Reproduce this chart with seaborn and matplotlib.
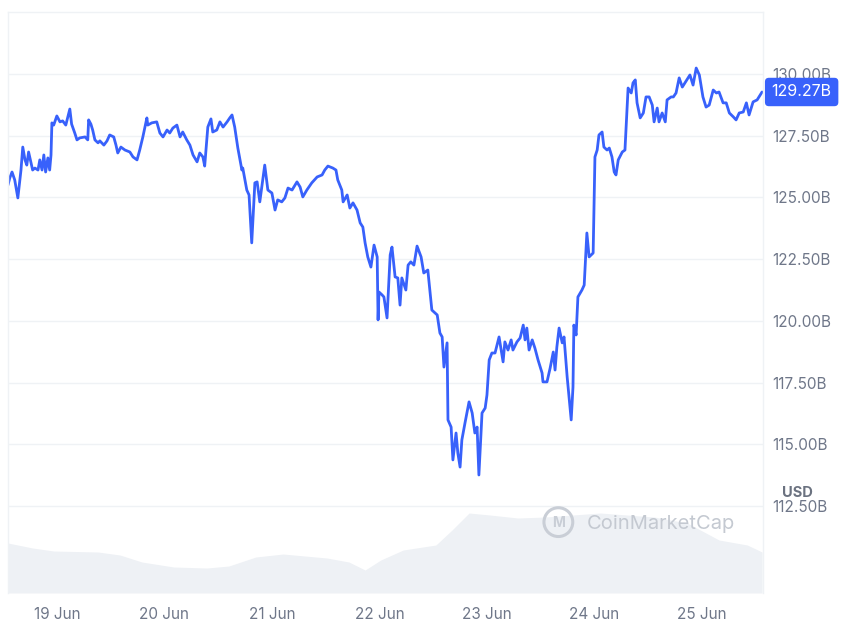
import matplotlib
matplotlib.use("Agg")
import matplotlib.pyplot as plt
import matplotlib.dates as mdates
import seaborn as sns
import numpy as np
import pandas as pd

# Market cap (billions USD), hours from 19 Jun 00:00
cap_hours = [
    -10.9, -10.5, -10.0, -9.4, -8.7, -8.0, -7.6, -7.1, -6.7, -6.3, -5.8, -5.4, -4.9, -4.2,
    -3.8, -3.3, -2.9, -2.5, -2.0, -1.6, -1.3, -1.1, -0.7, 0.0, 0.7, 1.3, 2.0, 2.9, 3.3,
    4.0, 4.5, 5.1, 6.3, 6.9, 7.1, 7.6, 8.0, 8.5, 9.2, 9.6, 10.5, 11.2, 11.8, 12.7, 13.2,
    13.6, 14.3, 15.2, 16.3, 17.0, 17.9, 18.5, 19.2, 20.1, 20.3, 21.2, 22.3, 23.0, 23.7,
    24.6, 25.2, 25.9, 26.8, 27.5, 28.1, 29.0, 29.7, 30.4, 31.3, 31.9, 32.6, 33.0, 33.7,
    34.4, 34.8, 35.7, 36.4, 37.1, 38.0, 38.6, 39.1, 39.7, 40.4, 41.3, 41.5, 42.4, 42.9,
    43.5, 44.2, 44.7, 45.3, 46.4, 47.1, 48.0, 48.7, 49.3, 50.2, 50.9, 51.6, 52.5, 53.6,
    54.3, 54.9, 55.8, 56.9, 58.1, 59.2, 59.8, 60.5, 61.6, 62.3, 62.7, 63.6, 63.9, 64.8,
    65.4, 66.1, 67.0, 67.7, 68.3, 68.8, 69.4, 70.1, 70.8, 71.5, 71.7, 71.9, 72.6, 73.0,
    73.7, 74.4, 74.8, 75.5, 76.1, 76.6, 77.0, 77.9, 78.4, 79.0, 79.7, 80.4, 81.3, 81.9,
    82.8, 83.7, 84.9, 85.5, 86.0, 86.4, 87.1, 87.3, 88.0, 88.4, 89.1, 89.5, 90.0, 90.4,
    91.1, 92.0, 92.7, 93.3, 93.8, 94.2, 94.9, 95.6, 96.0, 96.5, 97.1, 97.8, 98.7, 99.6,
    100.0, 100.7, 101.4, 101.8, 102.7, 103.4, 104.1, 104.5, 104.9, 105.4, 106.1, 106.7,
    107.4, 108.3, 108.5, 109.4, 110.1, 110.8, 111.2, 111.6, 112.1, 112.8, 113.2, 113.9,
    114.8, 115.2, 115.4, 115.9, 116.3, 117.2, 117.7, 118.3, 118.8, 119.7, 120.1, 120.6,
    121.0, 121.7, 122.1, 122.8, 123.3, 123.9, 124.4, 124.8, 125.3, 126.2, 126.8, 127.5,
    128.2, 128.6, 129.1, 129.5, 130.2, 130.9, 131.5, 132.2, 132.9, 133.3, 134.0, 134.4,
    135.1, 135.8, 136.2, 137.1, 137.6, 138.2, 138.9, 139.6, 140.2, 141.3, 142.0, 142.7,
    143.4, 144.2, 144.9, 145.6, 146.5, 147.2, 147.8, 148.7, 149.4, 150.1, 151.0, 151.6,
    152.3, 153.2, 153.9, 154.5, 155.4, 156.3, 157.4,
]
cap_values = [
    125.50, 125.79, 126.03, 125.71, 124.98, 126.11, 127.04, 126.52, 126.31, 126.84, 126.44,
    126.11, 126.19, 126.11, 126.52, 126.11, 126.72, 126.03, 126.60, 126.11, 126.72, 128.02,
    127.93, 128.30, 128.06, 128.10, 127.93, 128.58, 127.97, 127.61, 127.33, 127.41, 127.45,
    127.33, 128.14, 127.97, 127.73, 127.33, 127.21, 127.29, 127.12, 127.29, 127.53, 127.45,
    127.12, 126.80, 127.04, 126.92, 126.84, 126.64, 126.52, 126.92, 127.45, 128.22, 127.93,
    128.02, 128.06, 127.61, 127.45, 127.73, 127.61, 127.81, 127.93, 127.45, 127.65, 127.33,
    127.12, 126.72, 126.44, 126.80, 126.64, 126.27, 127.85, 128.18, 127.65, 127.73, 128.06,
    127.85, 128.06, 128.22, 128.34, 127.85, 127.00, 126.11, 126.19, 125.30, 125.10, 123.16,
    125.59, 125.63, 124.82, 126.31, 125.30, 125.18, 124.49, 124.90, 124.82, 124.98, 125.38,
    125.30, 125.63, 125.42, 125.02, 125.30, 125.59, 125.83, 125.91, 126.11, 126.27, 126.19,
    126.11, 125.71, 125.30, 124.82, 125.10, 124.57, 124.78, 124.49, 123.97, 123.80, 123.16,
    122.59, 122.18, 123.07, 122.59, 120.04, 121.17, 121.05, 120.97, 120.12, 122.67, 122.99,
    121.78, 121.74, 120.64, 121.74, 121.25, 122.26, 122.39, 122.26, 123.03, 122.59, 121.94,
    122.06, 120.44, 120.24, 119.51, 119.35, 118.13, 119.11, 115.99, 115.70, 114.37, 115.46,
    114.65, 114.08, 115.18, 115.87, 116.72, 116.27, 115.46, 115.70, 113.76, 116.27, 116.47,
    117.00, 118.42, 118.70, 118.70, 119.35, 118.34, 119.15, 118.82, 119.23, 118.82, 119.15,
    119.31, 119.83, 119.23, 119.71, 118.82, 119.23, 118.90, 118.42, 117.89, 117.53, 117.53,
    118.09, 118.74, 118.01, 118.94, 119.71, 119.11, 119.35, 117.73, 115.99, 117.32, 119.83,
    119.43, 120.97, 121.25, 121.45, 123.56, 122.59, 122.75, 126.64, 126.92, 127.53, 127.65,
    127.04, 126.92, 127.00, 126.64, 126.03, 125.91, 126.52, 126.84, 126.92, 129.43, 129.23,
    129.64, 129.76, 128.83, 128.22, 128.42, 129.07, 129.07, 128.74, 128.06, 128.62, 128.06,
    128.42, 128.06, 128.95, 129.07, 129.07, 129.23, 129.84, 129.47, 129.64, 129.96, 129.55,
    130.24, 129.96, 129.07, 128.66, 128.74, 129.35, 129.23, 129.27, 128.83, 128.83, 128.42,
    128.26, 128.14, 128.42, 128.46, 128.83, 128.34, 128.87, 128.95, 129.27,
]

# Volume (billions USD), hours from 19 Jun 00:00
vol_hours = [
    -10.9, -5.4, -0.7, 9.2, 14.1, 19.0, 26.1, 33.5, 38.4, 44.4, 50.5, 60.3, 65.2, 68.8,
    72.3, 77.3, 84.6, 88.2, 92.0, 96.7, 102.9, 109.0, 121.3, 133.3, 140.7, 147.8, 154.1, 157.4,
]
vol_values = [
    5.0, 4.5, 4.2, 4.1, 3.8, 3.1, 2.6, 2.5, 2.7, 3.6, 3.9, 3.5, 3.1, 2.3,
    3.3, 4.3, 4.8, 6.3, 8.0, 7.8, 7.5, 7.6, 8.0, 7.6, 7.0, 5.3, 4.8, 4.1,
]

y_ticks = [112.5, 115.0, 117.5, 120.0, 122.5, 125.0, 127.5, 130.0]
last_label = "129.27B"

start = pd.Timestamp("2023-06-19")
cap_df = pd.DataFrame({
    "time": start + pd.to_timedelta(cap_hours, unit="h"),
    "cap": cap_values,
})
vol_df = pd.DataFrame({
    "time": start + pd.to_timedelta(vol_hours, unit="h"),
    "vol": vol_values,
})

sns.set_theme(style="white")
plt.rcParams["font.family"] = ["Inter", "DejaVu Sans"]

blue = "#3861fb"
grid_col = "#eff2f5"
text_col = "#6f7789"

fig = plt.figure(figsize=(8.5, 6.31), dpi=100)
ax = fig.add_axes([0.0094, 0.0602, 0.8882, 0.9208])
ax2 = ax.twinx()

# Volume in the background
ax2.fill_between(vol_df["time"], vol_df["vol"], 0, color="#eef1f5", linewidth=0)
ax2.set_ylim(0, 58.1)
ax2.set_yticks([])
for s in ax2.spines.values():
    s.set_visible(False)

ax.set_zorder(ax2.get_zorder() + 1)
ax.patch.set_visible(False)

sns.lineplot(data=cap_df, x="time", y="cap", ax=ax, color=blue, linewidth=2.0)

ax.set_xlim(start + pd.Timedelta(hours=-10.9), start + pd.Timedelta(hours=157.6))
ax.set_ylim(108.98, 132.51)
ax.set_yticks(y_ticks)
ax.set_yticklabels([f"{v:.2f}B" for v in y_ticks])
ax.yaxis.tick_right()
ax.tick_params(axis="y", length=0, pad=7, labelsize=11, labelcolor=text_col)
ax.xaxis.set_major_locator(mdates.DayLocator())
ax.xaxis.set_major_formatter(mdates.DateFormatter("%d %b"))
ax.tick_params(axis="x", length=0, pad=10, labelsize=11, labelcolor=text_col)
ax.set_xlabel("")
ax.set_ylabel("")
ax.grid(axis="y", color=grid_col, linewidth=1)
ax.grid(axis="x", visible=False)
ax.set_axisbelow(True)
for side in ["left", "top", "right"]:
    ax.spines[side].set_color(grid_col)
    ax.spines[side].set_linewidth(1)
ax.spines["bottom"].set_visible(False)

# Last value badge
ax.text(1.0115, cap_values[-1], last_label, transform=ax.get_yaxis_transform(),
        ha="left", va="center", fontsize=11.5, color="white", clip_on=False, zorder=10,
        bbox=dict(boxstyle="round,pad=0.42,rounding_size=0.25", fc=blue, ec="none"))

# Currency label
ax.text(1.046, 113.05, "USD", transform=ax.get_yaxis_transform(), ha="center",
        va="center", fontsize=10.5, fontweight="bold", color="#6b7280", clip_on=False)

# Watermark
ax.scatter([0.729], [0.122], s=430, marker="o", facecolors="none",
           edgecolors="#c9ced6", linewidths=2.2, transform=ax.transAxes, zorder=1)
ax.text(0.729, 0.120, "M", transform=ax.transAxes, ha="center", va="center",
        fontsize=10, color="#c9ced6", fontweight="bold")
ax.text(0.767, 0.118, "CoinMarketCap", transform=ax.transAxes, ha="left",
        va="center", fontsize=14.5, color="#c4c9d1")

fig.savefig("out.png", dpi=100)
